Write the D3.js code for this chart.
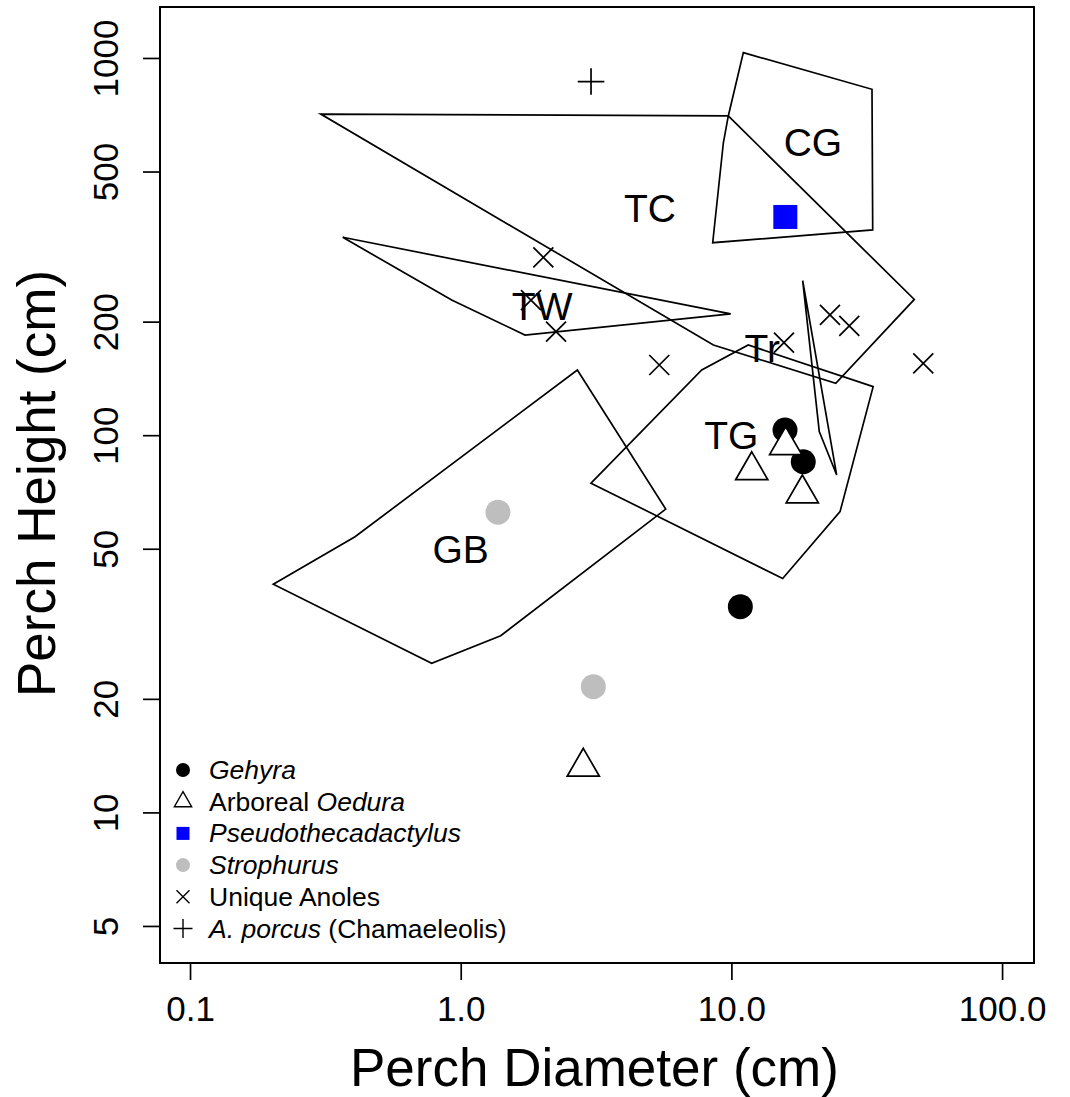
<!DOCTYPE html>
<html>
<head>
<meta charset="utf-8">
<script src="https://cdn.jsdelivr.net/npm/d3@7"></script>
<style>
  body { margin: 0; background: #fff; }
  svg { display: block; font-family: "Liberation Sans", Arial, Helvetica, sans-serif; }
</style>
</head>
<body>
<div id="chart"></div>
<script>
// ------ DATA ------
const xTicks = [0.1, 1, 10, 100]
const xTickLabels = ["0.1", "1.0", "10.0", "100.0"]
const yTicks = [5, 10, 20, 50, 100, 200, 500, 1000]

// ecomorph hulls [diameter, height]
const polyTC = [[0.304, 710], [9.74, 702], [47.4, 229], [24.3, 137.3], [8.58, 173.4]]
const polyCG = [[11.07, 1033], [33.07, 826], [33.27, 350], [8.53, 323.8], [9.34, 596], [9.74, 702]]
const polyTW = [[0.3665, 334.7], [9.94, 209.6], [1.728, 184.3], [0.926, 228.2]]
const polyTr = [[18.34, 256.8], [21.12, 102.2], [24.49, 78.4]]
const polyTG = [[3.03, 74.6], [7.77, 148.9], [11.54, 173.4], [33.4, 134.5], [25.2, 62.7], [15.47, 41.7]]
const polyGB = [[2.697, 148.9], [5.72, 63.7], [1.405, 29.4], [0.781, 24.85], [0.2031, 40.24], [0.407, 53.8]]

const hullLabels = ["CG", "TC", "TW", "Tr", "TG", "GB"]
const hullLabelPos = [[20, 600], [5, 400], [2, 220], [13, 170], [10, 100], [1, 50]]

// species points
const gehyra = [[15.78, 103.2], [18.43, 85.05], [10.79, 35.1]]
const oedura = [[15.87, 94.0], [11.89, 80.65], [18.28, 70.0], [2.837, 13.2]]
const pseudo = [[15.82, 378.9]]
const strophurus = [[1.373, 62.5], [3.09, 21.54]]
const anoles = [[2.02, 296], [1.818, 228.2], [2.25, 188.1], [5.415, 153.5],
                [15.64, 175.9], [23.13, 208.3], [27.26, 194.8], [51.15, 155.1]]
const porcus = [[3.03, 866]]

const legendKeys = ["gehyra", "oedura", "pseudo", "strophurus", "anoles", "porcus"]

// ------ LAYOUT ------
const width = 1070, height = 1097
const plot = {left: 160, right: 1034, top: 7, bottom: 963}

const svg = d3.select("#chart").append("svg")
  .attr("width", width)
  .attr("height", height)

const x = d3.scaleLog().domain([0.07746, 131.2]).range([plot.left, plot.right])
const y = d3.scaleLog().domain([3.988, 1365]).range([plot.bottom, plot.top])

const lw = 1.7

// ------ AXES ------
const xAxis = svg.append("g")
  .attr("transform", `translate(0,${plot.bottom})`)
  .call(d3.axisBottom(x).tickValues(xTicks).tickSize(17).tickPadding(6)
        .tickFormat((d, i) => xTickLabels[i]))
xAxis.select(".domain").remove()
xAxis.selectAll("line").attr("stroke-width", lw)
xAxis.selectAll("text")
  .attr("font-size", 35)
  .attr("font-family", "Liberation Sans, Arial, sans-serif")
  .attr("y", 0).attr("dy", null)
  .attr("transform", "translate(0,58)")

const yAxis = svg.append("g")
  .attr("transform", `translate(${plot.left},0)`)
  .call(d3.axisLeft(y).tickValues(yTicks).tickSize(17).tickFormat(d3.format("d")))
yAxis.select(".domain").remove()
yAxis.selectAll("line").attr("stroke-width", lw)
yAxis.selectAll("text")
  .attr("font-size", 35)
  .attr("font-family", "Liberation Sans, Arial, sans-serif")
  .attr("x", 0).attr("dy", null)
  .attr("text-anchor", "middle")
  .attr("transform", "translate(-42,0) rotate(-90)")

svg.append("text")
  .attr("x", 350).attr("y", 1086)
  .attr("font-size", 53)
  .text("Perch Diameter (cm)")

svg.append("text")
  .attr("transform", "translate(55,697) rotate(-90)")
  .attr("font-size", 53)
  .text("Perch Height (cm)")

// ------ HULLS ------
const line = d3.line().x(d => x(d[0])).y(d => y(d[1]))
const hulls = [polyCG, polyTC, polyTW, polyTr, polyTG, polyGB]

svg.append("g").selectAll("path")
  .data(hulls)
  .join("path")
  .attr("d", d => line(d) + "Z")
  .attr("fill", "none")
  .attr("stroke", "#000")
  .attr("stroke-width", lw)
  .attr("stroke-linejoin", "miter")

svg.append("g").selectAll("text")
  .data(hullLabels)
  .join("text")
  .attr("x", (d, i) => x(hullLabelPos[i][0]))
  .attr("y", (d, i) => y(hullLabelPos[i][1]))
  .attr("dy", "0.36em")
  .attr("text-anchor", "middle")
  .attr("font-size", 39)
  .text(d => d)

// ------ SYMBOLS ------
function triPath(r) {
  const c = 0.866 * r
  return `M0,${-r}L${c},${r / 2}L${-c},${r / 2}Z`
}
function crossPath(h) {
  return `M${-h},${-h}L${h},${h}M${-h},${h}L${h},${-h}`
}
function plusPath(h) {
  return `M${-h},0L${h},0M0,${-h}L0,${h}`
}

const marks = svg.append("g")

marks.selectAll(".anole")
  .data(anoles).join("path")
  .attr("class", "anole")
  .attr("transform", d => `translate(${x(d[0])},${y(d[1])})`)
  .attr("d", crossPath(10))
  .attr("stroke", "#000").attr("stroke-width", lw).attr("fill", "none")

marks.selectAll(".porcus")
  .data(porcus).join("path")
  .attr("class", "porcus")
  .attr("transform", d => `translate(${x(d[0])},${y(d[1])})`)
  .attr("d", plusPath(13.3))
  .attr("stroke", "#000").attr("stroke-width", lw).attr("fill", "none")

marks.selectAll(".pseudo")
  .data(pseudo).join("rect")
  .attr("class", "pseudo")
  .attr("x", d => x(d[0]) - 12).attr("y", d => y(d[1]) - 12)
  .attr("width", 24).attr("height", 24)
  .attr("fill", "#0000ff")

marks.selectAll(".stroph")
  .data(strophurus).join("circle")
  .attr("class", "stroph")
  .attr("cx", d => x(d[0])).attr("cy", d => y(d[1]))
  .attr("r", 12.5)
  .attr("fill", "#bebebe")

marks.selectAll(".gehyra")
  .data(gehyra).join("circle")
  .attr("class", "gehyra")
  .attr("cx", d => x(d[0])).attr("cy", d => y(d[1]))
  .attr("r", 12.5)
  .attr("fill", "#000")

marks.selectAll(".oedura")
  .data(oedura).join("path")
  .attr("class", "oedura")
  .attr("transform", d => `translate(${x(d[0])},${y(d[1])})`)
  .attr("d", triPath(18.6))
  .attr("stroke", "#000").attr("stroke-width", lw).attr("fill", "#fff")

// ------ LEGEND ------
const legend = svg.append("g").attr("transform", "translate(183,770)")
const rowH = 31.7

legendKeys.forEach(function(k, i) {
  const g = legend.append("g").attr("transform", `translate(0,${i * rowH})`)
  if (k == "gehyra") g.append("circle").attr("r", 7).attr("fill", "#000")
  if (k == "strophurus") g.append("circle").attr("r", 7).attr("fill", "#bebebe")
  if (k == "pseudo") g.append("rect").attr("x", -6.5).attr("y", -6.5)
    .attr("width", 13).attr("height", 13).attr("fill", "#0000ff")
  if (k == "oedura") g.append("path").attr("d", triPath(10))
    .attr("fill", "none").attr("stroke", "#000").attr("stroke-width", 1.4)
  if (k == "anoles") g.append("path").attr("d", crossPath(6.5))
    .attr("fill", "none").attr("stroke", "#000").attr("stroke-width", 1.4)
  if (k == "porcus") g.append("path").attr("d", plusPath(9.5))
    .attr("fill", "none").attr("stroke", "#000").attr("stroke-width", 1.4)

  const t = g.append("text").attr("x", 26).attr("y", 9).attr("font-size", 26.5)
  if (k == "gehyra") t.append("tspan").attr("font-style", "italic").text("Gehyra")
  if (k == "oedura") {
    t.append("tspan").text("Arboreal ")
    t.append("tspan").attr("font-style", "italic").text("Oedura")
  }
  if (k == "pseudo") t.append("tspan").attr("font-style", "italic").text("Pseudothecadactylus")
  if (k == "strophurus") t.append("tspan").attr("font-style", "italic").text("Strophurus")
  if (k == "anoles") t.append("tspan").text("Unique Anoles")
  if (k == "porcus") {
    t.append("tspan").attr("font-style", "italic").text("A. porcus")
    t.append("tspan").text(" (Chamaeleolis)")
  }
})

// ------ BOX ------
svg.append("rect")
  .attr("x", plot.left).attr("y", plot.top)
  .attr("width", plot.right - plot.left).attr("height", plot.bottom - plot.top)
  .attr("fill", "none").attr("stroke", "#000").attr("stroke-width", 2)
</script>
</body>
</html>
